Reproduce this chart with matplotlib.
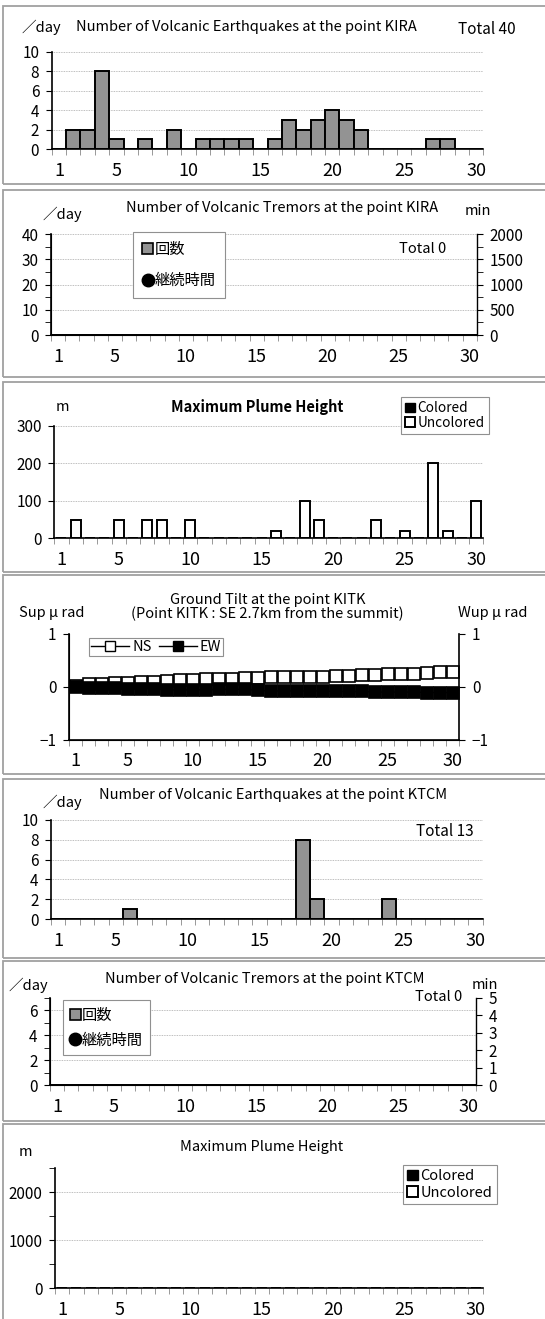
import numpy as np
import matplotlib
matplotlib.use('Agg')
import matplotlib.pyplot as plt
from matplotlib.patches import Rectangle, Patch
from matplotlib.lines import Line2D

plt.rcParams['font.family'] = ['Noto Sans CJK JP', 'DejaVu Sans']

W, H = 545, 1319

days = np.arange(1, 31)
day_ticks = [1, 5, 10, 15, 20, 25, 30]
day_labels = ['1', '5', '10', '15', '20', '25', '30']

# KIRA
kira_eq = [0, 2, 2, 8, 1, 0, 1, 0, 2, 0, 1, 1, 1, 1, 0,
           1, 3, 2, 3, 4, 3, 2, 0, 0, 0, 0, 1, 1, 0, 0]
kira_tremor = [0] * 30
kira_tremor_min = [np.nan] * 30
kira_plume_colored = [0] * 30
kira_plume_uncolored = [0, 50, 0, 0, 50, 0, 50, 50, 0, 50, 0, 0, 0, 0, 0,
                        20, 0, 100, 50, 0, 0, 0, 50, 0, 20, 0, 200, 20, 0, 100]

# KITK tilt (micro rad)
tilt_ns = [0.01, 0.05, 0.06, 0.075, 0.08, 0.09, 0.09, 0.11, 0.125, 0.125,
           0.14, 0.14, 0.15, 0.16, 0.175, 0.19, 0.19, 0.19, 0.19, 0.19,
           0.21, 0.21, 0.22, 0.23, 0.24, 0.24, 0.245, 0.26, 0.275, 0.275]
tilt_ew = [0.0, -0.02, -0.03, -0.03, -0.035, -0.035, -0.04, -0.06, -0.06, -0.06,
           -0.06, -0.05, -0.05, -0.05, -0.07, -0.08, -0.08, -0.08, -0.08, -0.08,
           -0.09, -0.09, -0.09, -0.1, -0.1, -0.1, -0.1, -0.11, -0.11, -0.11]

# KTCM
ktcm_eq = [0, 0, 0, 0, 0, 1, 0, 0, 0, 0, 0, 0, 0, 0, 0,
           0, 0, 8, 2, 0, 0, 0, 0, 2, 0, 0, 0, 0, 0, 0]
ktcm_tremor = [0] * 30
ktcm_tremor_min = [np.nan] * 30
ktcm_plume_colored = [0] * 30
ktcm_plume_uncolored = [0] * 30

BAR_GRAY = '#939393'
GRID = '#a8a8a8'

fig = plt.figure(figsize=(W / 100, H / 100), dpi=100)


def box(l, t, r, b):
    return [l / W, 1 - b / H, (r - l) / W, (b - t) / H]


def txt(x, y, s, size=10.5, **kw):
    fig.text(x / W, 1 - y / H, s, ha=kw.pop('ha', 'center'), va='center',
             fontsize=size, **kw)


def panel(t, b):
    fig.patches.append(Rectangle((3 / W, 1 - b / H), 600 / W, (b - t) / H,
                                 transform=fig.transFigure, fill=False,
                                 edgecolor='#a0a0a0', lw=1.3))


def style_days(ax):
    ax.set_xlim(0.5, 30.5)
    ax.set_xticks(day_ticks)
    ax.set_xticklabels(day_labels)
    ax.set_xticks(np.arange(0.5, 31, 1), minor=True)
    ax.tick_params(axis='x', which='major', length=0, pad=9, labelsize=13)
    ax.tick_params(axis='x', which='minor', length=4, color='#888888', direction='out')
    ax.tick_params(axis='y', which='both', length=4, direction='out', pad=5, labelsize=11)
    ax.spines['top'].set_visible(False)
    ax.spines['right'].set_visible(False)
    ax.spines['bottom'].set_linewidth(1.2)
    ax.spines['left'].set_linewidth(1.2)
    ax.yaxis.grid(True, color=GRID, lw=0.6, ls=(0, (1, 1)))
    ax.set_axisbelow(True)


def legend_at(ax, handles, labels, x, y, **kw):
    leg = ax.legend(handles, labels, loc='upper left',
                    bbox_to_anchor=(x / W, 1 - y / H), bbox_transform=fig.transFigure,
                    fancybox=False, framealpha=1, borderaxespad=0, **kw)
    leg.get_frame().set_edgecolor('#909090')
    leg.get_frame().set_linewidth(0.8)
    return leg


for t, b in [(6, 184), (190, 377), (382, 572), (575, 774), (779, 958), (961, 1121), (1124, 1330)]:
    panel(t, b)

# 1: KIRA earthquakes
ax1 = fig.add_axes(box(51.7, 52, 483.3, 149))
ax1.bar(days, kira_eq, width=1.0, color=BAR_GRAY, edgecolor='black', lw=1.4)
ax1.set_ylim(0, 10)
ax1.set_yticks(range(0, 11, 2))
style_days(ax1)
txt(41, 27, '／day')
txt(246, 27, 'Number of Volcanic Earthquakes at the point KIRA')
txt(487, 30, 'Total 40', size=11)

# 2: KIRA tremors
ax2 = fig.add_axes(box(51, 234.3, 476.7, 335))
ax2.bar(days, kira_tremor, width=1.0, color=BAR_GRAY, edgecolor='black', lw=1.4)
ax2.set_ylim(0, 40)
ax2.set_yticks(range(0, 41, 10))
ax2.set_yticks(range(5, 40, 10), minor=True)
style_days(ax2)
ax2r = ax2.twinx()
ax2r.plot(days, kira_tremor_min, 'o', color='black')
ax2r.set_ylim(0, 2000)
ax2r.set_yticks(range(0, 2001, 500))
ax2r.set_yticks(range(250, 2000, 500), minor=True)
ax2r.tick_params(axis='y', which='both', length=4, pad=5, labelsize=11)
ax2r.spines['top'].set_visible(False)
ax2r.spines['right'].set_linewidth(1.0)
legend_at(ax2r, [Patch(facecolor=BAR_GRAY, edgecolor='black', lw=1.2),
                 Line2D([], [], marker='o', color='black', ls='none', ms=9)],
          ['回数', '継続時間'], 133, 232, fontsize=11, handlelength=0.7,
          handleheight=0.7, handletextpad=0.1, labelspacing=0.9, borderpad=0.6)
txt(62, 214, '／day')
txt(282, 208, 'Number of Volcanic Tremors at the point KIRA')
txt(478, 211, 'min')
txt(423, 249, 'Total 0')

# 3: KIRA plume
ax3 = fig.add_axes(box(54.3, 425.7, 483.3, 538.3))
ax3.bar(days, kira_plume_colored, width=0.7, color='black', edgecolor='black', lw=1.4)
ax3.bar(days, kira_plume_uncolored, width=0.7, color='white', edgecolor='black', lw=1.4)
ax3.set_ylim(0, 300)
ax3.set_yticks(range(0, 301, 100))
style_days(ax3)
legend_at(ax3, [Patch(facecolor='black', edgecolor='black'),
                Patch(facecolor='white', edgecolor='black', lw=1.4)],
          ['Colored', 'Uncolored'], 401, 397, fontsize=9.8, handlelength=0.7,
          handleheight=0.7, handletextpad=0.2, labelspacing=0.05, borderpad=0.3)
txt(62, 407, 'm')
txt(257, 407, 'Maximum Plume Height', fontweight='bold')

# 4: tilt KITK
ax4 = fig.add_axes(box(69, 634, 459.3, 739.5))
ax4.plot(days, tilt_ns, '-s', color='black', mfc='white', mec='black', ms=8.2, mew=1.2, lw=1)
ax4.plot(days, tilt_ew, '-s', color='black', mfc='black', mec='black', ms=8.2, mew=1.2, lw=1)
ax4.set_ylim(-1, 1)
ax4.set_yticks([-1, 0, 1])
ax4.set_yticklabels(['−1', '0', '1'])
style_days(ax4)
ax4.yaxis.grid(False)
ax4r = ax4.twinx()
ax4r.set_ylim(-1, 1)
ax4r.set_yticks([-1, 0, 1])
ax4r.set_yticklabels(['−1', '0', '1'])
ax4r.tick_params(axis='y', length=4, pad=5, labelsize=11)
ax4r.spines['top'].set_visible(False)
ax4r.spines['right'].set_linewidth(1.2)
legend_at(ax4, [Line2D([], [], color='black', marker='s', mfc='white', mec='black', ms=7, lw=1),
                Line2D([], [], color='black', marker='s', mfc='black', mec='black', ms=7, lw=1)],
          ['NS', 'EW'], 89, 638, ncol=2, fontsize=10.5, handlelength=2.6,
          handletextpad=0.2, columnspacing=0.5, borderpad=0.15)
txt(268, 600, 'Ground Tilt at the point KITK')
txt(267, 614, '(Point KITK : SE 2.7km from the summit)')
txt(52, 613, 'Sup μ rad')
txt(493, 613, 'Wup μ rad')

# 5: KTCM earthquakes
ax5 = fig.add_axes(box(51, 820, 482.7, 919))
ax5.bar(days, ktcm_eq, width=1.0, color=BAR_GRAY, edgecolor='black', lw=1.4)
ax5.set_ylim(0, 10)
ax5.set_yticks(range(0, 11, 2))
style_days(ax5)
txt(273, 795, 'Number of Volcanic Earthquakes at the point KTCM')
txt(62, 802, '／day')
txt(445, 831, 'Total 13', size=11)

# 6: KTCM tremors
ax6 = fig.add_axes(box(50, 998, 476, 1085))
ax6.bar(days, ktcm_tremor, width=1.0, color=BAR_GRAY, edgecolor='black', lw=1.4)
ax6.set_ylim(0, 7)
ax6.set_yticks([0, 2, 4, 6])
ax6.set_yticks([1, 3, 5, 7], minor=True)
style_days(ax6)
ax6r = ax6.twinx()
ax6r.plot(days, ktcm_tremor_min, 'o', color='black')
ax6r.set_ylim(0, 5)
ax6r.set_yticks(range(0, 6))
ax6r.tick_params(axis='y', length=4, pad=5, labelsize=11)
ax6r.spines['top'].set_visible(False)
ax6r.spines['right'].set_linewidth(1.0)
legend_at(ax6r, [Patch(facecolor=BAR_GRAY, edgecolor='black', lw=1.2),
                 Line2D([], [], marker='o', color='black', ls='none', ms=9)],
          ['回数', '継続時間'], 63, 1000, fontsize=11, handlelength=0.7,
          handleheight=0.7, handletextpad=0.1, labelspacing=0.5, borderpad=0.45)
txt(265, 979, 'Number of Volcanic Tremors at the point KTCM')
txt(28, 985, '／day')
txt(485, 985, 'min')
txt(439, 997, 'Total 0')

# 7: KTCM plume
ax7 = fig.add_axes(box(55, 1168.3, 482.7, 1288.3))
ax7.bar(days, ktcm_plume_colored, width=0.7, color='black', edgecolor='black', lw=1.4)
ax7.bar(days, ktcm_plume_uncolored, width=0.7, color='white', edgecolor='black', lw=1.4)
ax7.set_ylim(0, 2500)
ax7.set_yticks([0, 1000, 2000])
ax7.set_yticks([500, 1500, 2500], minor=True)
style_days(ax7)
legend_at(ax7, [Patch(facecolor='black', edgecolor='black'),
                Patch(facecolor='white', edgecolor='black', lw=1.4)],
          ['Colored', 'Uncolored'], 403, 1165, fontsize=10.5, handlelength=0.7,
          handleheight=0.7, handletextpad=0.2, labelspacing=0.15, borderpad=0.3)
txt(25, 1152, 'm')
txt(262, 1147, 'Maximum Plume Height')

fig.savefig('out.png', dpi=100)
